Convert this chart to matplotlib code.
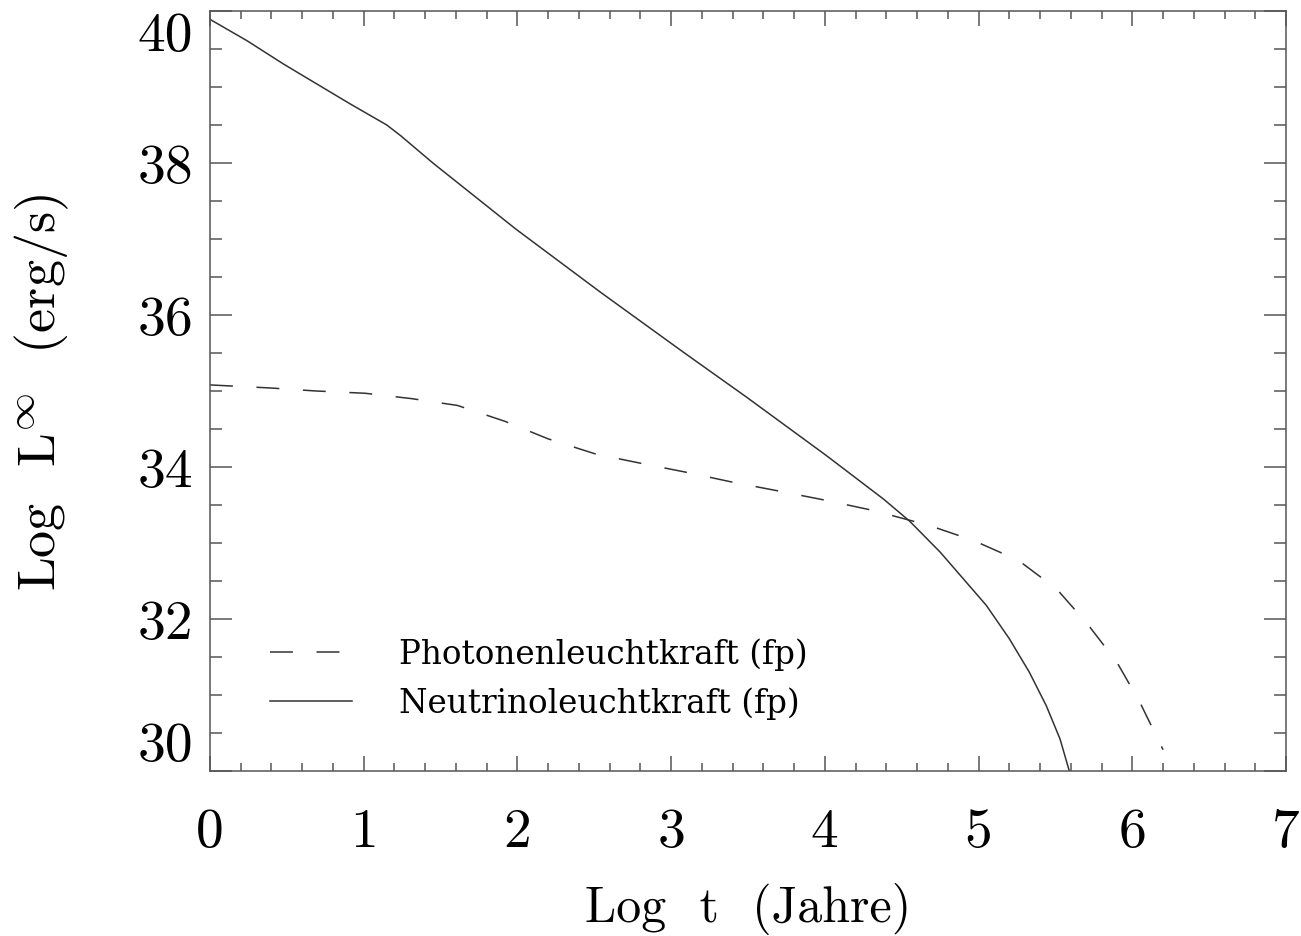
import matplotlib.pyplot as plt
import numpy as np

plt.rcParams['font.family'] = 'cmr10'
plt.rcParams['mathtext.fontset'] = 'cm'
plt.rcParams['axes.formatter.use_mathtext'] = True
plt.rcParams['lines.scale_dashes'] = False

# Neutrino luminosity (solid)
neutrino_t = [0.0, 0.24, 0.48, 0.67, 0.91, 1.15, 1.24, 1.45, 1.99, 2.54, 3.08, 3.49,
              4.01, 4.38, 4.55, 4.75, 4.90, 5.05, 5.20, 5.33, 5.44, 5.53, 5.59]
neutrino_L = [39.89, 39.61, 39.30, 39.07, 38.78, 38.50, 38.36, 38.00, 37.13, 36.30, 35.51, 34.92,
              34.15, 33.58, 33.29, 32.88, 32.53, 32.18, 31.74, 31.30, 30.86, 30.42, 30.00]

# Photon luminosity (dashed)
photon_t = [0.0, 0.39, 0.69, 1.01, 1.31, 1.61, 1.92, 2.20, 2.51, 2.80, 3.10, 3.40,
            3.71, 4.01, 4.31, 4.68, 4.97, 5.26, 5.51, 5.71, 5.90, 6.05, 6.20]
photon_L = [35.08, 35.04, 35.00, 34.97, 34.90, 34.81, 34.60, 34.37, 34.17, 34.05, 33.93, 33.80,
            33.68, 33.56, 33.43, 33.23, 33.03, 32.77, 32.39, 31.93, 31.43, 30.90, 30.28]

x_ticks = [0, 1, 2, 3, 4, 5, 6, 7]
y_ticks = [30, 32, 34, 36, 38, 40]

line_color = '#333333'
frame_color = '#555555'

fig = plt.figure(figsize=(13.01, 9.37), dpi=100)
ax = fig.add_axes([0.1614, 0.1761, 0.8271, 0.8111])

ax.plot(photon_t, photon_L, color=line_color, lw=1.1, dashes=(16.5, 17),
        label='Photonenleuchtkraft (fp)')
ax.plot(neutrino_t, neutrino_L, color=line_color, lw=1.1,
        label='Neutrinoleuchtkraft (fp)')

ax.set_xlim(0, 7)
ax.set_ylim(30, 40)
ax.set_xticks(x_ticks)
ax.set_xticklabels([str(v) for v in x_ticks])
ax.set_yticks(y_ticks)
ax.set_yticklabels([str(v) for v in y_ticks])
ax.set_xticks(np.arange(0, 7.01, 0.2), minor=True)
ax.set_yticks(np.arange(30, 40.01, 0.5), minor=True)

for s in ax.spines.values():
    s.set_color(frame_color)
    s.set_linewidth(1.1)

ax.tick_params(axis='both', which='both', direction='in', top=True, right=True,
               color=frame_color, width=1.1)
ax.tick_params(axis='x', which='major', length=11, pad=26, labelsize=40)
ax.tick_params(axis='x', which='minor', length=6)
ax.tick_params(axis='y', which='major', length=16, pad=12, labelsize=40)
ax.tick_params(axis='y', which='minor', length=8.5)

ylabels = ax.get_yticklabels()
ylabels[-1].set_va('top')
ylabels[0].set_va('bottom')

ax.set_xlabel('Log  t  (Jahre)', fontsize=36, labelpad=18)
ax.set_ylabel(r'Log  L$^{\infty}$  (erg/s)', fontsize=39, labelpad=48)

ax.legend(loc='lower left', bbox_to_anchor=(0.056, 0.068), frameon=False,
          prop={'family': 'DejaVu Serif', 'size': 23.5}, handlelength=2.5,
          handletextpad=1.45, labelspacing=0.5, borderpad=0, borderaxespad=0)

fig.savefig('out.png', dpi=100)
